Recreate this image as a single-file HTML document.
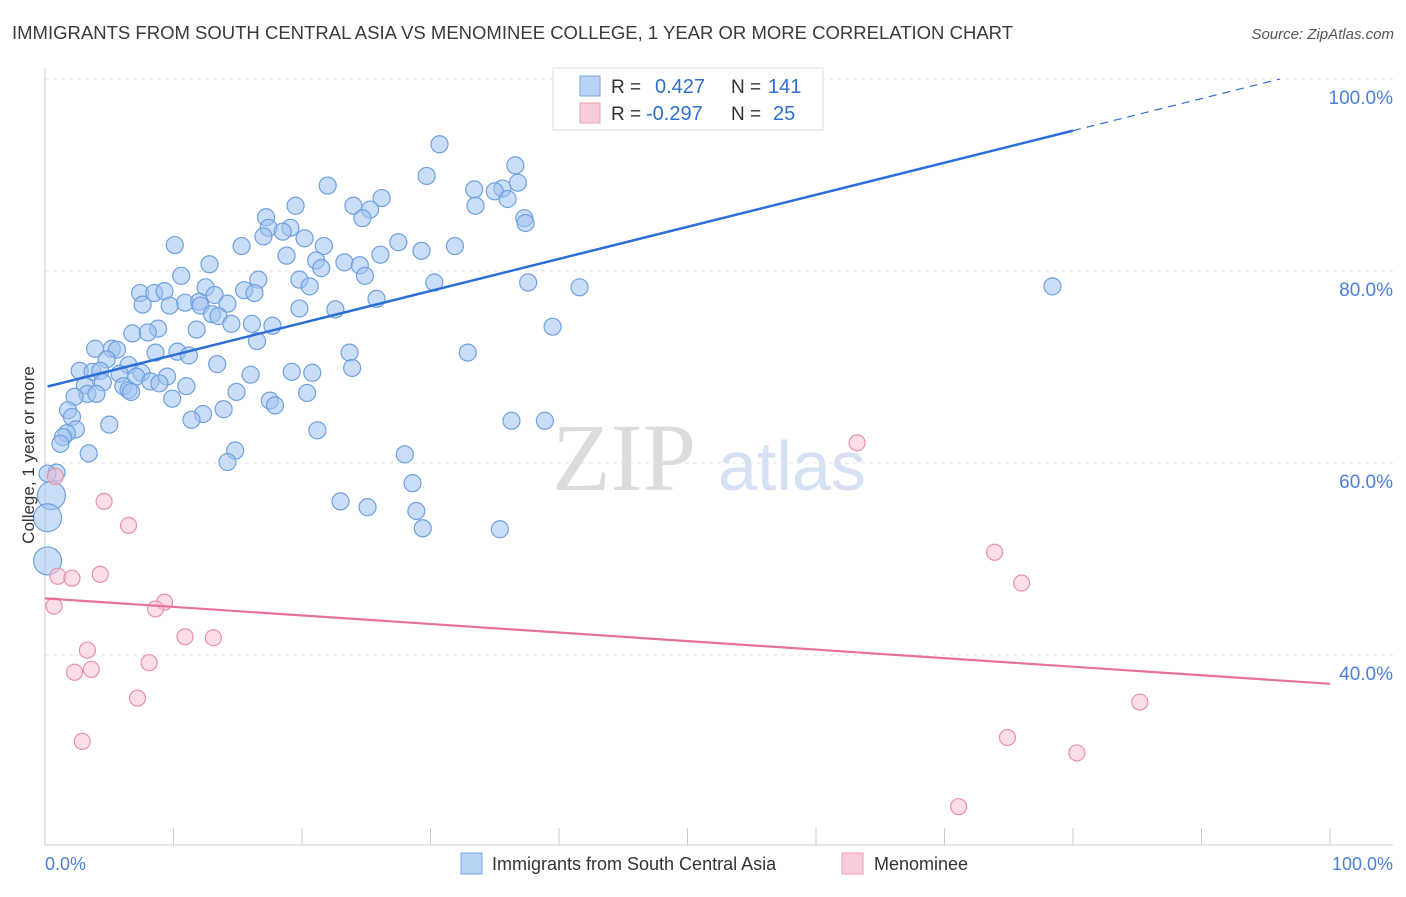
<!DOCTYPE html>
<html><head><meta charset="utf-8"><style>
body{margin:0;background:#fff;font-family:"Liberation Sans",sans-serif}
</style></head><body>
<svg id="chart" width="1406" height="892" xmlns="http://www.w3.org/2000/svg" font-family="Liberation Sans, sans-serif">
<text x="12" y="39" font-size="18.5" fill="#3a3a3a" textLength="1001">IMMIGRANTS FROM SOUTH CENTRAL ASIA VS MENOMINEE COLLEGE, 1 YEAR OR MORE CORRELATION CHART</text>
<text x="1394" y="39" font-size="15" fill="#555" font-style="italic" text-anchor="end">Source: ZipAtlas.com</text>
<g><text x="552" y="490" font-size="96" font-family="Liberation Serif, serif" fill="#dcdcdc">ZIP</text><text x="718" y="490" font-size="70" fill="#d5e2f3">atlas</text></g>
<g id="grid"></g>
<g id="axes"></g>
<g id="pts"></g>
<g id="lines"></g>
<text x="34" y="455" font-size="17" fill="#333" text-anchor="middle" transform="rotate(-90 34 455)">College, 1 year or more</text>
<g>
<rect x="553" y="68" width="270" height="62" fill="#fff" stroke="#ddd"/>
<rect x="580" y="76" width="20" height="20" fill="#b7d2f4" stroke="#7aa6e0"/>
<text x="611" y="93" font-size="19" fill="#333">R = </text><text x="655" y="93" font-size="20" fill="#2f6fd1">0.427</text>
<text x="731" y="93" font-size="19" fill="#333">N = </text><text x="768" y="93" font-size="20" fill="#2f6fd1">141</text>
<rect x="580" y="103" width="20" height="20" fill="#f9ccd9" stroke="#eba0b8"/>
<text x="611" y="120" font-size="19" fill="#333">R = </text><text x="646" y="120" font-size="20" fill="#2f6fd1">-0.297</text>
<text x="731" y="120" font-size="19" fill="#333">N = </text><text x="773" y="120" font-size="20" fill="#2f6fd1">25</text>
</g>
<g>
<rect x="461" y="853" width="21" height="21" fill="#b7d2f4" stroke="#7aa6e0"/>
<text x="492" y="870" font-size="18" fill="#333">Immigrants from South Central Asia</text>
<rect x="842" y="853" width="21" height="21" fill="#f9ccd9" stroke="#eba0b8"/>
<text x="874" y="870" font-size="18" fill="#333">Menominee</text>
</g>
</svg>
<script>
const blueX=[30.7,36.6,29.7,36.8,22.0,33.4,35.6,35.0,26.2,36.0,19.5,24.0,33.5,25.3,17.2,24.7,37.3,37.4,17.4,19.1,18.5,17.0,20.2,27.5,10.1,15.3,21.7,31.9,29.3,26.1,18.8,21.1,23.3,12.8,24.5,21.5,10.6,24.9,16.6,19.8,30.3,37.6,78.4,41.6,20.6,12.5,15.5,7.4,8.5,9.3,16.3,13.2,25.8,10.9,12.0,7.6,9.7,14.2,12.1,19.8,22.6,13.0,13.5,14.5,16.1,17.7,39.5,8.8,11.8,6.8,8.0,16.5,3.9,5.2,5.6,8.6,10.3,23.7,32.9,11.2,4.8,13.4,6.5,23.9,2.7,3.7,4.3,5.8,7.5,19.2,20.8,7.1,9.5,16.0,4.5,3.1,6.1,8.2,8.9,11.0,6.5,14.9,20.4,3.3,4.0,2.3,6.7,9.9,17.5,17.9,1.8,13.9,12.3,11.4,2.1,36.3,38.9,5.0,2.4,21.2,1.7,1.4,14.8,1.2,3.4,28.0,14.2,0.9,0.2,28.6,23.0,25.1,28.9,35.4,29.4];
const blueY=[93.2,91.0,89.9,89.2,88.9,88.5,88.6,88.3,87.6,87.5,86.8,86.8,86.8,86.4,85.6,85.5,85.5,85.0,84.5,84.5,84.1,83.6,83.4,83.0,82.7,82.6,82.6,82.6,82.1,81.7,81.6,81.1,80.9,80.7,80.6,80.3,79.5,79.5,79.1,79.1,78.8,78.8,78.4,78.3,78.4,78.3,78.0,77.7,77.7,77.9,77.7,77.5,77.1,76.7,76.8,76.5,76.4,76.6,76.4,76.1,76.0,75.5,75.3,74.5,74.5,74.3,74.2,74.0,73.9,73.5,73.6,72.7,71.9,71.9,71.8,71.5,71.6,71.5,71.5,71.2,70.8,70.3,70.2,69.9,69.6,69.5,69.6,69.3,69.4,69.5,69.4,69.0,69.0,69.2,68.4,68.1,68.0,68.5,68.3,68.0,67.6,67.4,67.3,67.2,67.2,66.9,67.4,66.7,66.5,66.0,65.5,65.6,65.1,64.5,64.8,64.4,64.4,64.0,63.5,63.4,63.1,62.7,61.3,62.0,61.0,60.9,60.1,59.0,58.9,57.9,56.0,55.4,55.0,53.1,53.2];
const blueBigX=[0.5,0.2,0.2];
const blueBigY=[56.6,54.3,49.8];
const pinkX=[0.8,4.6,6.5,63.2,1.0,2.1,4.3,73.9,76.0,0.7,9.3,8.6,10.9,13.1,3.3,8.1,2.3,3.6,7.2,85.2,2.9,74.9,80.3,71.1];
const pinkY=[58.6,56.0,53.5,62.1,48.2,48.0,48.4,50.7,47.5,45.1,45.5,44.8,41.9,41.8,40.5,39.2,38.2,38.5,35.5,35.1,31.0,31.4,29.8,24.2];
const blueTrend=[67.9,101.3];
const blueSolidEnd=80;
const pinkTrend=[45.9,37.0];
const yTicks=[40,60,80,100];
const yTickLabels=["40.0%","60.0%","80.0%","100.0%"];
const xTickLabels=["0.0%","100.0%"];

const NS="http://www.w3.org/2000/svg";
const sx=v=>45+v*12.85;
const sy=v=>1039-v*9.6;
function mk(tag,attrs,parent){const e=document.createElementNS(NS,tag);for(const k in attrs)e.setAttribute(k,attrs[k]);parent.appendChild(e);return e;}
const grid=document.getElementById('grid'),axes=document.getElementById('axes'),pts=document.getElementById('pts'),lines=document.getElementById('lines');
yTicks.forEach((t,i)=>{
  const l=mk('line',{x1:45,x2:1393,y1:sy(t),y2:sy(t),stroke:'#e3e3e3','stroke-dasharray':'4,4'},grid);
  
  
  const tx=mk('text',{x:1393,y:sy(t)+25,'font-size':19,fill:'#4a7fd8','text-anchor':'end'},axes);
  
  
  tx.textContent=yTickLabels[i];
});
mk('line',{x1:45,x2:45,y1:68,y2:845,stroke:'#ccc'},axes);
mk('line',{x1:45,x2:1393,y1:845,y2:845,stroke:'#ccc'},axes);
for(let i=0;i<=10;i++){mk('line',{x1:sx(i*10),x2:sx(i*10),y1:828,y2:845,stroke:'#ccc'},axes);}
const x0=mk('text',{x:45,y:870,'font-size':18,fill:'#4a7fd8'},axes);


x0.textContent=xTickLabels[0];
const x1=mk('text',{x:1393,y:870,'font-size':18,fill:'#4a7fd8','text-anchor':'end'},axes);


x1.textContent=xTickLabels[1];
blueX.forEach((x,i)=>{
  const c=mk('circle',{cx:sx(x),cy:sy(blueY[i]),r:8.5,fill:'rgba(160,195,240,0.55)',stroke:'#6fa0e0','stroke-width':1.2},pts);
  
  
});
blueBigX.forEach((x,i)=>{
  const c=mk('circle',{cx:sx(x),cy:sy(blueBigY[i]),r:14,fill:'rgba(160,195,240,0.55)',stroke:'#6fa0e0','stroke-width':1.2},pts);
  
  
});
pinkX.forEach((x,i)=>{
  const c=mk('circle',{cx:sx(x),cy:sy(pinkY[i]),r:8,fill:'rgba(248,195,212,0.55)',stroke:'#e890ab','stroke-width':1.2},pts);
  
  
});
const by=x=>blueTrend[0]+(blueTrend[1]-blueTrend[0])*x/100;
const bl=mk('line',{x1:sx(0.2),y1:sy(by(0.2)),x2:sx(blueSolidEnd),y2:sy(by(blueSolidEnd)),stroke:'#2b6fd6','stroke-width':2.5},lines);


const bd=mk('line',{x1:sx(blueSolidEnd),y1:sy(by(blueSolidEnd)),x2:sx(96.1),y2:sy(by(96.1)),stroke:'#2b6fd6','stroke-width':1.2,'stroke-dasharray':'8,6'},lines);


const pl=mk('line',{x1:sx(0),y1:sy(pinkTrend[0]),x2:sx(100),y2:sy(pinkTrend[1]),stroke:'#e8709a','stroke-width':2.2},lines);


</script>
</body></html>
